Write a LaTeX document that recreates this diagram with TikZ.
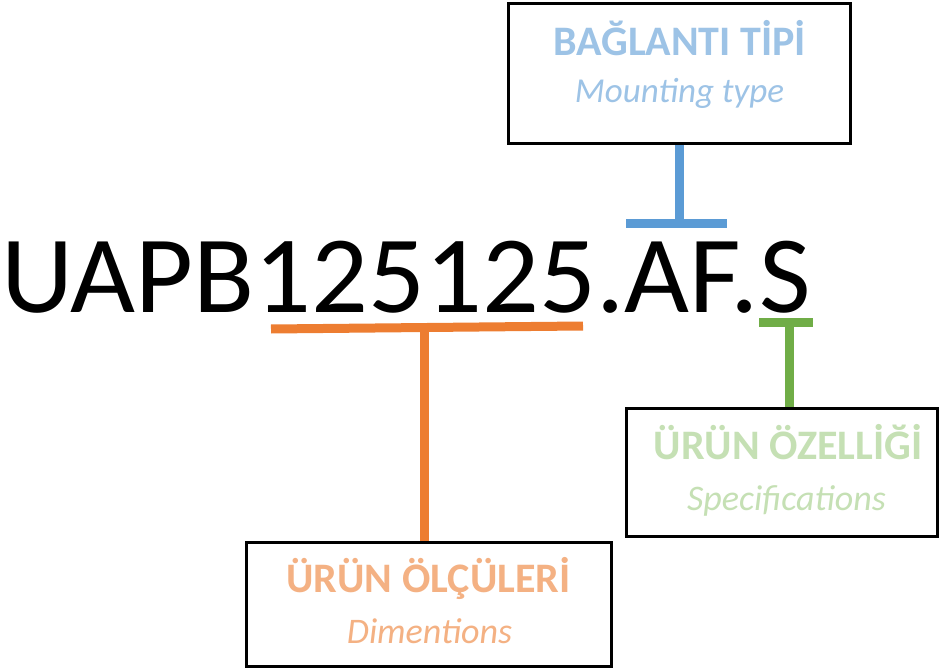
\documentclass[tikz,border=0pt]{standalone}
\usepackage{fontspec}
\setmainfont{Carlito}
\definecolor{lineblue}{HTML}{5B9BD5}
\definecolor{lineorange}{HTML}{ED7D31}
\definecolor{linegreen}{HTML}{70AD47}
\definecolor{txtblue}{HTML}{9DC3E6}
\definecolor{txtorange}{HTML}{F4B183}
\definecolor{txtgreen}{HTML}{C5E0B4}
\begin{document}
\begin{tikzpicture}[x=1pt,y=-1pt,
  box/.style={draw=black, line width=3pt, inner sep=0pt, fill=white},
  bar/.style={line width=9pt},
  title/.style={font=\fontsize{42}{42}\selectfont\bfseries, anchor=base, inner sep=0pt},
  sub/.style={font=\fontsize{36}{36}\selectfont\itshape, anchor=base, inner sep=0pt}]
\useasboundingbox (0,0) rectangle (939,668);
% code
\node[anchor=base west, inner sep=0pt, xscale=1.02, font=\fontsize{110}{110}\selectfont] (code) at (1,312) {UAPB125125.AF.S};
% boxes
\node[box, minimum width=342pt, minimum height=140pt] (tb) at (679,73.5) {};
\node[box, minimum width=365pt, minimum height=124.5pt] (bb) at (429,604.25) {};
\node[box, minimum width=311pt, minimum height=128pt] (gb) at (782,472) {};
% texts
\node[title, text=txtblue] (t1) at (679.5,56) {BAĞLANTI TİPİ};
\node[sub, text=txtblue, font=\fontsize{35}{35}\selectfont\itshape] (s1) at (679.5,103) {Mounting type};
\node[title, text=txtorange] (t2) at (428.5,592) {ÜRÜN ÖLÇÜLERİ};
\node[sub, text=txtorange] (s2) at (429.5,643) {Dimentions};
\node[title, text=txtgreen] (t3) at (788,459) {ÜRÜN ÖZELLİĞİ};
\node[sub, text=txtgreen] (s3) at (786.5,510) {Specifications};
% connectors
\coordinate (b1) at (626,224);
\coordinate (b2) at (727,224);
\draw[bar, lineblue] (b1) -- (b2);
\draw[bar, lineblue] (tb.south) -- (tb.south |- b1);
\coordinate (o1) at (271,329);
\coordinate (o2) at (583,326);
\coordinate (ov) at (424,328);
\draw[bar, lineorange] (o1) -- (o2);
\draw[bar, lineorange] (ov) -- (ov |- bb.north);
\coordinate (g1) at (759,322);
\coordinate (g2) at (813,322);
\coordinate (gv) at (789,322);
\draw[bar, linegreen] (g1) -- (g2);
\draw[bar, linegreen] (gv) -- (gv |- gb.north);
\end{tikzpicture}
\end{document}
